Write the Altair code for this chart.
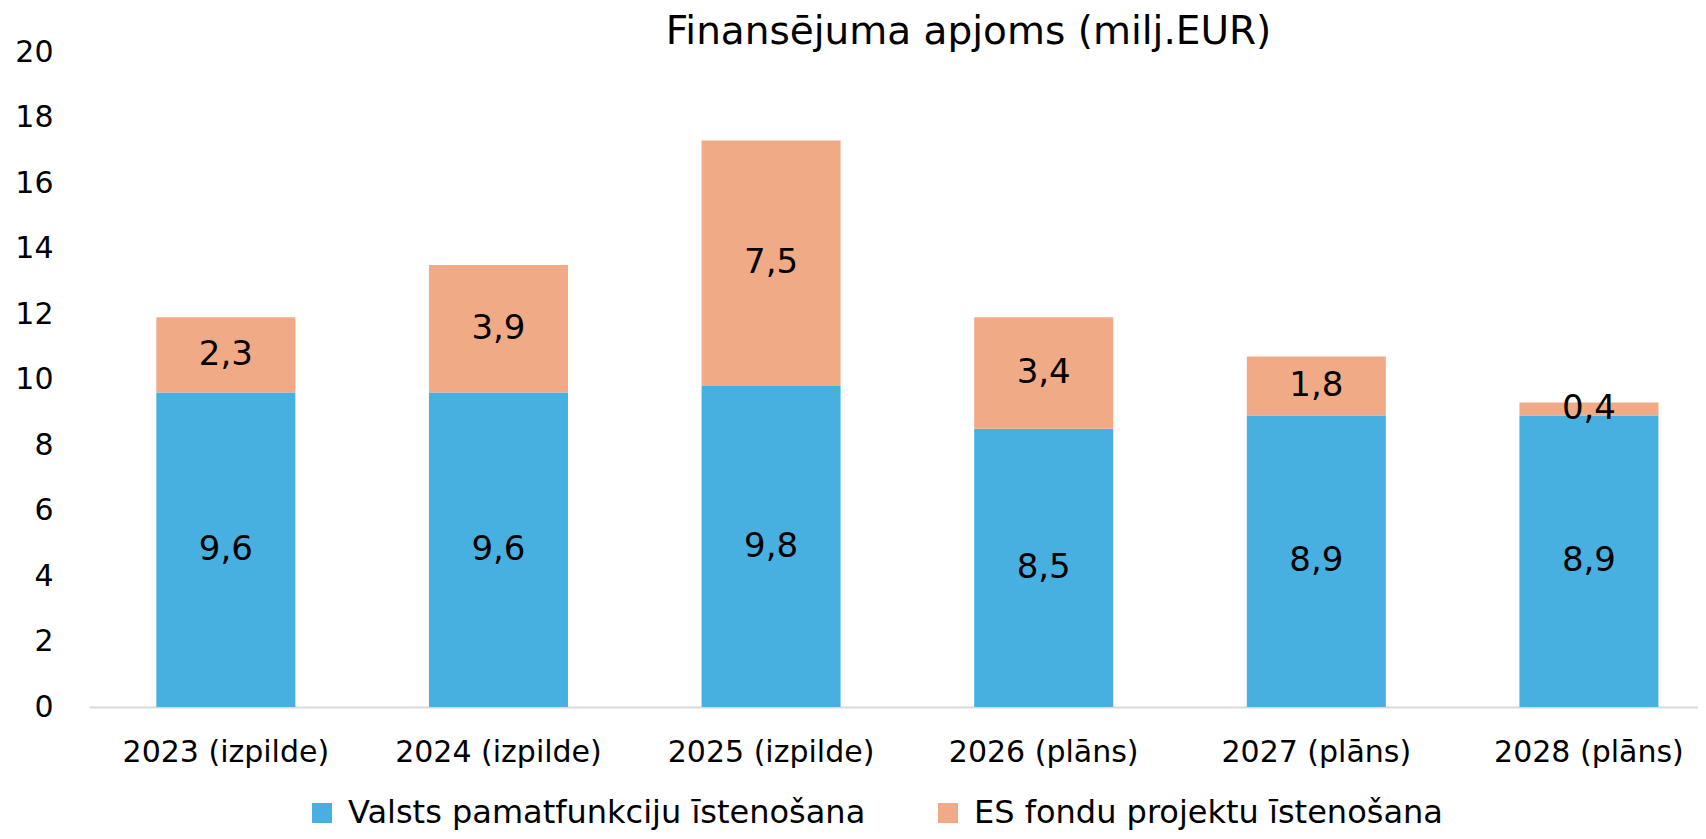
import altair as alt
import pandas as pd

years = ["2023 (izpilde)", "2024 (izpilde)", "2025 (izpilde)",
         "2026 (plāns)", "2027 (plāns)", "2028 (plāns)"]
series = ["Valsts pamatfunkciju īstenošana", "ES fondu projektu īstenošana"]
valsts = [9.6, 9.6, 9.8, 8.5, 8.9, 8.9]
es_fondi = [2.3, 3.9, 7.5, 3.4, 1.8, 0.4]
colors = ["#48B0E1", "#F1AA86"]
y_ticks = [0, 2, 4, 6, 8, 10, 12, 14, 16, 18, 20]

rows = []
for i, y in enumerate(years):
    for k, (name, vals) in enumerate(zip(series, [valsts, es_fondi])):
        rows.append({"year": y, "series": name, "order": k, "value": vals[i],
                     "label": f"{vals[i]:.1f}".replace(".", ",")})
df = pd.DataFrame(rows)

FONT = "DejaVu Sans, sans-serif"

x_enc = alt.X("year:N", sort=years, title=None,
              scale=alt.Scale(paddingInner=0.49, paddingOuter=0.196, align=0.63),
              axis=alt.Axis(labelAngle=0, ticks=False, labelPadding=30, labelFontSize=30,
                            labelFont=FONT, labelColor="black", labelLimit=1000,
                            domainColor="#D9D9D9", domainWidth=2, grid=False))

base = alt.Chart(df)

bars = base.mark_bar().encode(
    x=x_enc,
    y=alt.Y("value:Q", stack="zero", title=None,
            scale=alt.Scale(domain=[0, 20], nice=False),
            axis=alt.Axis(values=y_ticks, ticks=False, domain=False, grid=False,
                          labelPadding=36, labelFontSize=30, labelFont=FONT,
                          labelColor="black")),
    color=alt.Color("series:N", sort=series,
                    scale=alt.Scale(domain=series, range=colors),
                    legend=alt.Legend(title=None, orient="none", direction="horizontal",
                                      legendX=217, legendY=745, symbolType="square",
                                      symbolSize=400, symbolStrokeWidth=0,
                                      labelFontSize=32, labelFont=FONT, labelColor="black",
                                      columnPadding=66, labelOffset=10, labelLimit=1000)),
    order=alt.Order("order:Q", sort="ascending"),
)

labels = base.transform_stack(
    stack="value", groupby=["year"], as_=["v0", "v1"],
    sort=[alt.SortField("order", order="ascending")]
).transform_calculate(mid="(datum.v0 + datum.v1) / 2").mark_text(
    font=FONT, fontSize=34, color="black", baseline="middle", align="center"
).encode(
    x=alt.X("year:N", sort=years),
    y=alt.Y("mid:Q"),
    text="label:N",
)

chart = alt.layer(bars, labels).properties(
    width=1609, height=655,
    title=alt.TitleParams("Finansējuma apjoms (milj.EUR)", font=FONT, fontSize=39,
                          fontWeight="normal", color="black", anchor="middle",
                          baseline="alphabetic", frame="group", dx=75, offset=-46),
    autosize=alt.AutoSizeParams(type="none"),
    padding={"left": 81, "top": 44, "right": 0, "bottom": 124},
).configure_view(stroke=None)

chart.save("out.html", embed_options={"renderer": "svg", "actions": False})
